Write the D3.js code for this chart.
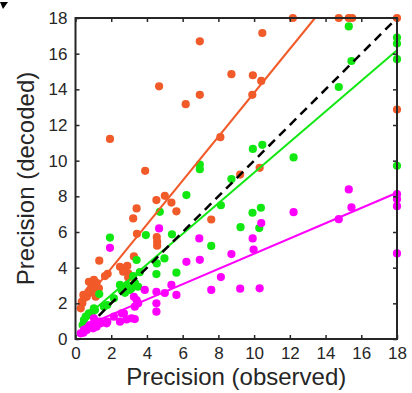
<!DOCTYPE html>
<html>
<head>
<meta charset="utf-8">
<script src="https://cdn.jsdelivr.net/npm/d3@7"></script>
<style>
  body { margin: 0; background: #fff; }
  text { font-family: "Liberation Sans", Arial, sans-serif; fill: #262626; }
</style>
</head>
<body>
<div id="chart"></div>
<script>
// orange: observed vs decoded
var orangeObs = [6.96, 8.73, 4.68, 6.96, 6.17, 1.93, 8.11, 3.9, 9.22, 10.31,
  12.17, 14.74, 15.3, 15.49, 18, 10.46, 9.93, 10.4, 9.9, 18,
  7.6, 5.0, 4.53, 5.37, 5.65, 3.42, 3.23, 3.44, 4.55, 4.57, 4.57,
  3.27, 1.33, 1.8, 1.65, 2.49, 2.7, 2.9, 2.95, 2.95, 2.67,
  0.75, 1.03, 1.18, 0.9, 1.31, 0.94, 0.81, 0.75, 1.13, 0.63, 0.47, 0.44, 0.38, 0.29, 0.35, 0.72];
var orangeDec = [16.69, 14.85, 14.17, 13.69, 13.17, 11.22, 11.32, 9.43, 9.22, 9.6,
  18, 18, 18, 18, 18, 17.16, 14.79, 14.47, 13.69, 12.87,
  6.7, 8.03, 7.79, 7.65, 7.16, 7.32, 6.76, 5.9, 5.72, 5.46, 5.23,
  4.63, 4.39, 3.66, 3.53, 4.05, 3.95, 4.1, 3.68, 3.45, 3.77,
  3.21, 3.31, 3.15, 2.97, 2.84, 2.75, 2.75, 2.56, 2.37, 2.37, 2.28, 2.47, 2.0, 1.72, 2.09, 2.65];

var greenObs = [15.3, 18, 18, 18, 15.45, 14.74, 9.93, 10.46, 12.21, 18,
  6.96, 6.96, 8.73, 8.14, 9.91, 10.38, 9.24, 10.29, 7.6,
  6.21, 4.72, 3.94, 1.93, 5.4, 4.55, 4.53, 4.98, 5.65,
  3.42, 3.6, 3.36, 3.32, 3.51, 2.9, 2.71, 2.49, 2.58, 2.77, 2.95, 3.14, 3.04, 3.23,
  1.33, 2.15, 1.78, 1.59, 1.03, 1.09, 0.9, 0.75, 0.72, 0.57, 0.47, 0.4];
var greenDec = [17.53, 16.9, 16.57, 15.69, 15.59, 14.13, 10.66, 10.89, 10.18, 9.71,
  9.78, 9.52, 8.97, 7.5, 7.08, 7.36, 6.27, 6.22, 5.22,
  8.07, 7.13, 5.83, 5.69, 5.87, 4.24, 3.64, 4.52, 3.72,
  4.43, 3.75, 3.03, 3.15, 2.93, 3.03, 2.84, 3.03, 2.75, 2.59, 2.75, 2.84, 2.75, 3.53,
  2.52, 2.28, 1.9, 1.81, 1.72, 1.62, 1.44, 1.44, 1.34, 1.25, 1.06, 0.78];

var magentaObs = [15.3, 18, 18, 18, 15.45, 12.21, 14.74, 10.4, 9.92, 9.97, 8.73, 18, 8.14, 9.22, 10.31, 7.6,
  6.93, 6.96, 6.21, 4.68, 1.93, 5.37, 5.65, 5.0, 4.53, 4.53, 4.53, 3.88, 3.42, 3.27, 3.51, 3.32,
  3.32, 3.14, 2.86, 2.49, 2.58, 2.71, 2.15, 1.74, 1.78, 1.41, 1.37, 1.18, 1.03, 1.03, 0.99,
  0.81, 0.75, 0.63, 0.47, 0.44, 0.29];
var magentaDec = [8.39, 8.12, 7.83, 7.45, 7.38, 7.11, 6.72, 6.5, 5.64, 5.02, 4.76, 4.8, 3.47, 2.82, 2.84, 2.75,
  5.64, 4.44, 4.33, 6.2, 5.11, 3.03, 2.47, 2.58, 2.65, 2.0, 1.53, 2.75, 2.18, 2.37, 2.0, 1.81,
  1.12, 1.16, 1.1, 0.97, 1.44, 1.44, 1.25, 0.88, 0.97, 0.88, 0.97, 0.69, 0.88, 1.16, 0.6,
  0.78, 0.69, 0.5, 0.5, 0.35, 0.32];

// fitted lines and identity, end points
var orangeFit = [[0.3, 1.87], [13.41, 18]];
var greenFit = [[0.4, 1.09], [18, 16.19]];
var magentaFit = [[0.3, 0.64], [18, 8.2]];
var identity = [[1.3, 1.3], [18, 18]];

var ticks = [0, 2, 4, 6, 8, 10, 12, 14, 16, 18];

var width = 412, height = 393;
var svg = d3.select("#chart").append("svg")
    .attr("width", width)
    .attr("height", height);

var x = d3.scaleLinear().domain([0, 18]).range([75.5, 397]);
var y = d3.scaleLinear().domain([0, 18]).range([339, 18]);

// cut-off panel letter in the corner
svg.append("path")
    .attr("d", "M0,2 L8,2 L3,9 Z")
    .attr("fill", "#000");

var plot = svg.append("g");

function dots(xs, ys, color) {
  plot.append("g")
    .selectAll("circle")
    .data(xs.map(function(v, i) { return [v, ys[i]]; }))
    .enter().append("circle")
      .attr("cx", function(d) { return x(d[0]); })
      .attr("cy", function(d) { return y(d[1]); })
      .attr("r", 4.1)
      .attr("fill", color);
}

dots(orangeObs, orangeDec, "#f15a29");
dots(greenObs, greenDec, "#11e811");
dots(magentaObs, magentaDec, "#ff00ff");

var line = d3.line()
    .x(function(d) { return x(d[0]); })
    .y(function(d) { return y(d[1]); });

plot.append("path").attr("d", line(orangeFit)).attr("stroke", "#f15a29").attr("stroke-width", 2).attr("fill", "none");
plot.append("path").attr("d", line(greenFit)).attr("stroke", "#11e811").attr("stroke-width", 2).attr("fill", "none");
plot.append("path").attr("d", line(magentaFit)).attr("stroke", "#ff00ff").attr("stroke-width", 2).attr("fill", "none");
plot.append("path").attr("d", line(identity))
    .attr("stroke", "#000").attr("stroke-width", 2.5)
    .attr("stroke-dasharray", "9,6").attr("fill", "none");

// axes, ticks inward on all four sides
function styleAxis(g) {
  g.select(".domain").remove();
  g.selectAll(".tick line").attr("stroke", "#262626").attr("stroke-width", 1.5);
  g.selectAll("text").style("font-size", "17px").attr("fill", "#262626");
}

svg.append("g")
    .attr("transform", "translate(0,339)")
    .call(d3.axisBottom(x).tickValues(ticks).tickSizeInner(-4).tickSizeOuter(0).tickPadding(8))
    .call(styleAxis);
svg.append("g")
    .attr("transform", "translate(75.5,0)")
    .call(d3.axisLeft(y).tickValues(ticks).tickSizeInner(-4).tickSizeOuter(0).tickPadding(8))
    .call(styleAxis);
svg.append("g")
    .attr("transform", "translate(0,18)")
    .call(d3.axisTop(x).tickValues(ticks).tickSizeInner(-4).tickSizeOuter(0).tickFormat(""))
    .call(styleAxis);
svg.append("g")
    .attr("transform", "translate(397,0)")
    .call(d3.axisRight(y).tickValues(ticks).tickSizeInner(-4).tickSizeOuter(0).tickFormat(""))
    .call(styleAxis);

svg.append("rect")
    .attr("x", 75.5).attr("y", 18)
    .attr("width", 397 - 75.5).attr("height", 339 - 18)
    .attr("fill", "none")
    .attr("stroke", "#262626")
    .attr("stroke-width", 2);

svg.append("text")
    .attr("x", (75.5 + 397) / 2)
    .attr("y", 385)
    .attr("text-anchor", "middle")
    .style("font-size", "24px")
    .text("Precision (observed)");

svg.append("text")
    .attr("transform", "translate(34," + (18 + 339) / 2 + ") rotate(-90)")
    .attr("text-anchor", "middle")
    .style("font-size", "24px")
    .text("Precision (decoded)");
</script>
</body>
</html>
